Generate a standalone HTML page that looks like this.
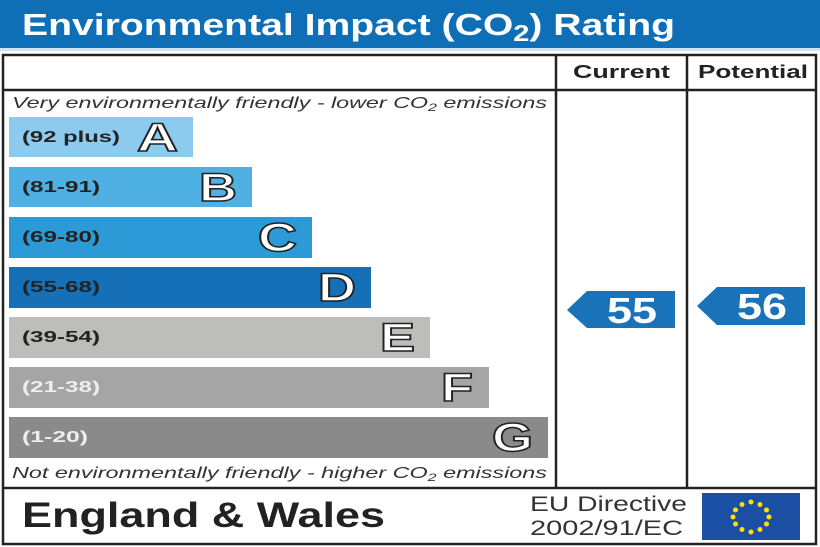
<!DOCTYPE html>
<html><head><style>body{margin:0;background:#fff}svg{display:block}</style></head><body>
<svg width="820" height="547" viewBox="0 0 820 547" xmlns="http://www.w3.org/2000/svg" font-family="Liberation Sans, Arial, sans-serif">
<rect x="0" y="0" width="820" height="48" fill="#0f6fb6"/>
<rect x="0" y="48" width="820" height="3" fill="#cfe3f2"/>
<text x="22" y="35" font-size="31" font-weight="bold" fill="#fff" textLength="653" lengthAdjust="spacingAndGlyphs">Environmental Impact (CO<tspan font-size="23" dy="6">2</tspan><tspan dy="-6">) Rating</tspan></text>
<rect x="3" y="55" width="813" height="489" fill="#fff" stroke="#222" stroke-width="2.5"/>
<line x1="3" y1="90" x2="816" y2="90" stroke="#222" stroke-width="2.5"/>
<line x1="3" y1="488" x2="816" y2="488" stroke="#222" stroke-width="2.5"/>
<line x1="556" y1="55" x2="556" y2="488" stroke="#222" stroke-width="2.5"/>
<line x1="687" y1="55" x2="687" y2="488" stroke="#222" stroke-width="2.5"/>
<text x="573" y="78" font-size="18" font-weight="bold" fill="#222" textLength="97" lengthAdjust="spacingAndGlyphs">Current</text>
<text x="698" y="78" font-size="18" font-weight="bold" fill="#222" textLength="110" lengthAdjust="spacingAndGlyphs">Potential</text>
<text x="12" y="108" font-size="16" font-style="italic" fill="#333" textLength="535" lengthAdjust="spacingAndGlyphs">Very environmentally friendly - lower CO<tspan font-size="11" dy="3">2</tspan><tspan dy="-3"> emissions</tspan></text>
<text x="12" y="478" font-size="16" font-style="italic" fill="#333" textLength="535" lengthAdjust="spacingAndGlyphs">Not environmentally friendly - higher CO<tspan font-size="11" dy="3">2</tspan><tspan dy="-3"> emissions</tspan></text>
<g font-weight="bold">
<rect x="9" y="117" width="184" height="40" fill="#8ccbee"/>
<text x="22" y="142" font-size="16" fill="#222" textLength="98" lengthAdjust="spacingAndGlyphs">(92 plus)</text>
<text x="137" y="151" font-size="40" fill="#fff" stroke="#222" stroke-width="1.5" textLength="41" lengthAdjust="spacingAndGlyphs">A</text>
<rect x="9" y="167" width="243" height="40" fill="#4eb0e3"/>
<text x="22" y="192" font-size="16" fill="#222" textLength="78" lengthAdjust="spacingAndGlyphs">(81-91)</text>
<text x="199" y="201" font-size="40" fill="#fff" stroke="#222" stroke-width="1.5" textLength="38" lengthAdjust="spacingAndGlyphs">B</text>
<rect x="9" y="217" width="303" height="41" fill="#2b9ad6"/>
<text x="22" y="242" font-size="16" fill="#222" textLength="78" lengthAdjust="spacingAndGlyphs">(69-80)</text>
<text x="258" y="251" font-size="40" fill="#fff" stroke="#222" stroke-width="1.5" textLength="39" lengthAdjust="spacingAndGlyphs">C</text>
<rect x="9" y="267" width="362" height="41" fill="#1570b8"/>
<text x="22" y="292" font-size="16" fill="#222" textLength="78" lengthAdjust="spacingAndGlyphs">(55-68)</text>
<text x="318" y="301" font-size="40" fill="#fff" stroke="#222" stroke-width="1.5" textLength="38" lengthAdjust="spacingAndGlyphs">D</text>
<rect x="9" y="317" width="421" height="41" fill="#bdbdbb"/>
<text x="22" y="342" font-size="16" fill="#222" textLength="78" lengthAdjust="spacingAndGlyphs">(39-54)</text>
<text x="380" y="351" font-size="40" fill="#fff" stroke="#222" stroke-width="1.5" textLength="35" lengthAdjust="spacingAndGlyphs">E</text>
<rect x="9" y="367" width="480" height="41" fill="#a5a5a5"/>
<text x="22" y="392" font-size="16" fill="#eee" textLength="78" lengthAdjust="spacingAndGlyphs">(21-38)</text>
<text x="441" y="401" font-size="40" fill="#fff" stroke="#222" stroke-width="1.5" textLength="32" lengthAdjust="spacingAndGlyphs">F</text>
<rect x="9" y="417" width="539" height="41" fill="#8a8a8a"/>
<text x="22" y="442" font-size="16" fill="#eee" textLength="66" lengthAdjust="spacingAndGlyphs">(1-20)</text>
<text x="492" y="451" font-size="40" fill="#fff" stroke="#222" stroke-width="1.5" textLength="41" lengthAdjust="spacingAndGlyphs">G</text>
<polygon points="567,310 587,291 675,291 675,328 587,328" fill="#1a73b8"/>
<text x="607" y="323" font-size="36" fill="#fff" textLength="50" lengthAdjust="spacingAndGlyphs">55</text>
<polygon points="697,306 717,287 805,287 805,325 717,325" fill="#1a73b8"/>
<text x="737" y="319" font-size="36" fill="#fff" textLength="50" lengthAdjust="spacingAndGlyphs">56</text>
<text x="22" y="527" font-size="35" fill="#222" textLength="363" lengthAdjust="spacingAndGlyphs">England &amp; Wales</text>
</g>
<text x="530" y="511" font-size="21" fill="#333" textLength="157" lengthAdjust="spacingAndGlyphs">EU Directive</text>
<text x="530" y="535" font-size="21" fill="#333" textLength="153" lengthAdjust="spacingAndGlyphs">2002/91/EC</text>
<rect x="702" y="493" width="98" height="47" fill="#1b4fa3"/>
<g fill="#ffe000">
<circle cx="751" cy="502" r="2.5"/><circle cx="760" cy="504.5" r="2.5"/><circle cx="766.5" cy="510" r="2.5"/><circle cx="769" cy="517" r="2.5"/><circle cx="766.5" cy="524" r="2.5"/><circle cx="760" cy="529.5" r="2.5"/><circle cx="751" cy="532" r="2.5"/><circle cx="742" cy="529.5" r="2.5"/><circle cx="735.5" cy="524" r="2.5"/><circle cx="733" cy="517" r="2.5"/><circle cx="735.5" cy="510" r="2.5"/><circle cx="742" cy="504.5" r="2.5"/>
</g>
</svg>
</body></html>
